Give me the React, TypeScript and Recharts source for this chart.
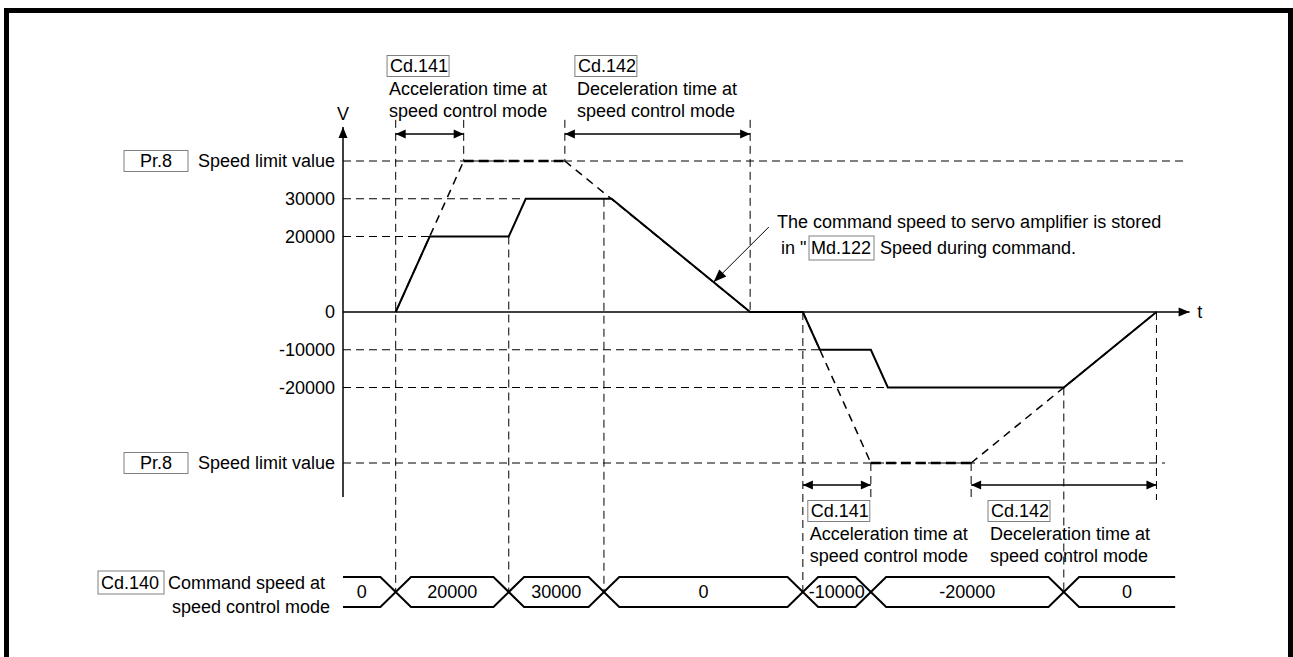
import React from "react";
import {
  ComposedChart,
  Line,
  XAxis,
  YAxis,
  ReferenceLine,
  ReferenceDot,
} from "recharts";

const FONT = "'Liberation Sans', Arial, Helvetica, sans-serif";
const INK = "#000";
const BOX = "#808080";

// time is in arbitrary units, speed in pulse/s
const speedTimes = [62, 102, 195, 215, 316, 479, 541, 561, 621, 641, 848, 957];
const speedValues = [0, 20000, 20000, 30000, 30000, 0, 0, -10000, -10000, -20000, -20000, 0];

// Cd.140 command speed, set at these times
const commandTimes = [0, 62, 195, 307, 541, 621, 848];
const commandValues = [0, 20000, 30000, 0, -10000, -20000, 0];
const commandEnd = 979;

const speedLimit = 40000; // Pr.8
const accelTime = 80; // Cd.141
const decelTime = 218; // Cd.142
const moveStarts = [62, 541];
const moveStops = [479, 957];

const yTicks = [40000, 30000, 20000, 0, -10000, -20000, -40000];

// layout, in chart units
const BAND_TOP = -70200;
const BAND_BOTTOM = -78150;
const BAND_MID = (BAND_TOP + BAND_BOTTOM) / 2;
const CROSS = 18;
const GUIDE_TOP = 50900;
const GUIDE_BOTTOM = -49800;
const ARROW_UP = 47150;
const ARROW_DOWN = -45830;
const AXIS_V = 49000;
const AXIS_T_END = 996;

const txt = { fontFamily: FONT, fontSize: 18, fill: INK };

function speedAt(t: number) {
  for (let i = 1; i < speedTimes.length; i++) {
    if (t <= speedTimes[i]) {
      const t0 = speedTimes[i - 1];
      const f = (t - t0) / (speedTimes[i] - t0);
      return speedValues[i - 1] + f * (speedValues[i] - speedValues[i - 1]);
    }
  }
  return 0;
}

function bandEdge(startTop: boolean) {
  let top = startTop;
  const lvl = () => (top ? BAND_TOP : BAND_BOTTOM);
  const pts = [{ t: commandTimes[0], v: lvl() }];
  for (let i = 1; i < commandTimes.length; i++) {
    pts.push({ t: commandTimes[i] - CROSS, v: lvl() });
    top = !top;
    pts.push({ t: commandTimes[i] + CROSS, v: lvl() });
  }
  pts.push({ t: commandEnd, v: lvl() });
  return pts;
}

function headPts(x1: number, y1: number, x2: number, y2: number, len: number, half: number) {
  const dx = x2 - x1;
  const dy = y2 - y1;
  const l = Math.hypot(dx, dy) || 1;
  const ux = dx / l;
  const uy = dy / l;
  const bx = x2 - ux * len;
  const by = y2 - uy * len;
  return `${x2},${y2} ${bx - uy * half},${by + ux * half} ${bx + uy * half},${by - ux * half}`;
}

function AxisArrow(p: any) {
  return (
    <g>
      <line x1={p.x1} y1={p.y1} x2={p.x2} y2={p.y2} stroke={INK} strokeWidth={1.5} />
      <polygon points={headPts(p.x1, p.y1, p.x2, p.y2, 11, 4.5)} fill={INK} />
    </g>
  );
}

function SpanArrow(p: any) {
  return (
    <g>
      <line x1={p.x1} y1={p.y1} x2={p.x2} y2={p.y2} stroke={INK} strokeWidth={1.5} />
      <polygon points={headPts(p.x1, p.y1, p.x2, p.y2, 10, 4.5)} fill={INK} />
      <polygon points={headPts(p.x2, p.y2, p.x1, p.y1, 10, 4.5)} fill={INK} />
    </g>
  );
}

function Leader(p: any) {
  return (
    <g>
      <line x1={p.x1} y1={p.y1} x2={p.x2} y2={p.y2} stroke={INK} strokeWidth={1} />
      <polygon points={headPts(p.x1, p.y1, p.x2, p.y2, 13, 5)} fill={INK} />
    </g>
  );
}

function Callout({ cx, cy, code, lines }: any) {
  return (
    <g>
      <rect x={cx - 1} y={cy - 10.5} width={62} height={21} fill="none" stroke={BOX} />
      <text x={cx + 2} y={cy} dominantBaseline="central" {...txt}>{code}</text>
      <text x={cx + 1} y={cy + 23} dominantBaseline="central" {...txt}>{lines[0]}</text>
      <text x={cx + 1} y={cy + 45} dominantBaseline="central" {...txt}>{lines[1]}</text>
    </g>
  );
}

function SpeedTick({ x, y, payload }: any) {
  const v = payload.value;
  if (Math.abs(v) === speedLimit) {
    return (
      <g>
        <rect x={x - 211} y={y - 10.5} width={64} height={21} fill="none" stroke={BOX} />
        <text x={x - 179} y={y} textAnchor="middle" dominantBaseline="central" {...txt}>Pr.8</text>
        <text x={x} y={y} textAnchor="end" dominantBaseline="central" {...txt}>Speed limit value</text>
      </g>
    );
  }
  return (
    <text x={x} y={y} textAnchor="end" dominantBaseline="central" {...txt}>{v}</text>
  );
}

export default function App() {
  const speedData = speedTimes.map((t, i) => ({ t, v: speedValues[i] }));
  const bandA = bandEdge(true);
  const bandB = bandEdge(false);
  const reach = (v: number) => speedTimes[speedValues.indexOf(v)];

  const hGuides: [number, number][] = [
    [speedLimit, 994],
    [30000, reach(30000)],
    [20000, reach(20000)],
    [-10000, reach(-10000)],
    [-20000, reach(-20000)],
    [-speedLimit, 967],
  ];

  const vGuides: [number, number, number][] = [
    [commandTimes[1], GUIDE_TOP, BAND_MID],
    [moveStarts[0] + accelTime, GUIDE_TOP, speedLimit],
    [commandTimes[2], 20000, BAND_MID],
    [moveStops[0] - decelTime, GUIDE_TOP, speedLimit],
    [commandTimes[3], 30000, BAND_MID],
    [moveStops[0], GUIDE_TOP, 0],
    [commandTimes[4], 0, BAND_MID],
    [moveStarts[1] + accelTime, -speedLimit, GUIDE_BOTTOM],
    [moveStops[1] - decelTime, -speedLimit, GUIDE_BOTTOM],
    [commandTimes[6], -20000, BAND_MID],
    [moveStops[1], 0, GUIDE_BOTTOM],
  ];

  const spans: [number, number, number][] = [
    [moveStarts[0], moveStarts[0] + accelTime, ARROW_UP],
    [moveStops[0] - decelTime, moveStops[0], ARROW_UP],
    [moveStarts[1], moveStarts[1] + accelTime, ARROW_DOWN],
    [moveStops[1] - decelTime, moveStops[1], ARROW_DOWN],
  ];

  const callouts = [
    { t: 53, v: 65166, code: "Cd.141", lines: ["Acceleration time at", "speed control mode"] },
    { t: 274, v: 65166, code: "Cd.142", lines: ["Deceleration time at", "speed control mode"] },
    { t: 548, v: -52715, code: "Cd.141", lines: ["Acceleration time at", "speed control mode"] },
    { t: 760, v: -52715, code: "Cd.142", lines: ["Deceleration time at", "speed control mode"] },
  ];

  const leaderTip = 436;

  return (
    <div
      style={{
        position: "absolute",
        left: 0,
        top: 0,
        width: 1293,
        height: 657,
        background: "#fff",
        overflow: "hidden",
      }}
    >
      <div
        style={{
          position: "absolute",
          left: 4,
          top: 8,
          width: 1279,
          height: 700,
          border: "5px solid #000",
        }}
      />
      <div style={{ position: "absolute", left: 0, top: 0 }}>
        <ComposedChart width={1293} height={657} margin={{ top: 10, right: 15, bottom: 43, left: 3 }}>
          <XAxis type="number" dataKey="t" domain={[0, 1100]} hide height={0} allowDataOverflow />
          <YAxis
            type="number"
            domain={[-80000, 80000]}
            ticks={yTicks}
            interval={0}
            axisLine={false}
            tickLine={false}
            tickSize={6}
            tickMargin={2}
            width={340}
            allowDataOverflow
            tick={(p: any) => <SpeedTick {...p} />}
          />

          {hGuides.map(([v, end]) => (
            <ReferenceLine
              key={"h" + v}
              segment={[{ x: 0, y: v }, { x: end, y: v }]}
              stroke={INK}
              strokeWidth={1}
              strokeDasharray="8 5"
            />
          ))}

          {vGuides.map(([t, a, b]) => (
            <ReferenceLine
              key={"v" + t}
              segment={[{ x: t, y: a }, { x: t, y: b }]}
              stroke={INK}
              strokeWidth={1}
              strokeDasharray="8 5"
            />
          ))}

          {moveStarts.map((s, i) => {
            const lim = (i === 0 ? 1 : -1) * speedLimit;
            const a = s + accelTime;
            const d = moveStops[i] - decelTime;
            return [
              <ReferenceLine key={"pa" + i} segment={[{ x: s, y: 0 }, { x: a, y: lim }]} stroke={INK} strokeWidth={1.5} strokeDasharray="8 6" />,
              <ReferenceLine key={"pf" + i} segment={[{ x: a, y: lim }, { x: d, y: lim }]} stroke={INK} strokeWidth={2.5} strokeDasharray="10 5" />,
              <ReferenceLine key={"pd" + i} segment={[{ x: d, y: lim }, { x: moveStops[i], y: 0 }]} stroke={INK} strokeWidth={1.5} strokeDasharray="8 6" />,
            ];
          })}

          {spans.map(([a, b, v]) => (
            <ReferenceLine key={"s" + a} segment={[{ x: a, y: v }, { x: b, y: v }]} shape={(p: any) => <SpanArrow {...p} />} />
          ))}

          <ReferenceLine segment={[{ x: 0, y: -AXIS_V }, { x: 0, y: AXIS_V }]} shape={(p: any) => <AxisArrow {...p} />} />
          <ReferenceLine segment={[{ x: 0, y: 0 }, { x: AXIS_T_END, y: 0 }]} shape={(p: any) => <AxisArrow {...p} />} />
          <ReferenceDot x={0} y={52450} r={1} shape={(p: any) => (
            <text x={p.cx} y={p.cy} textAnchor="middle" dominantBaseline="central" {...txt}>V</text>
          )} />
          <ReferenceDot x={1008} y={0} r={1} shape={(p: any) => (
            <text x={p.cx} y={p.cy} textAnchor="middle" dominantBaseline="central" {...txt}>t</text>
          )} />

          {callouts.map((c, i) => (
            <ReferenceDot key={"c" + i} x={c.t} y={c.v} r={1} shape={(p: any) => (
              <Callout cx={p.cx} cy={p.cy} code={c.code} lines={c.lines} />
            )} />
          ))}

          <ReferenceLine
            segment={[{ x: 501, y: 22517 }, { x: leaderTip, y: speedAt(leaderTip) }]}
            shape={(p: any) => <Leader {...p} />}
          />
          <ReferenceDot x={510.6} y={23841} r={1} shape={(p: any) => (
            <g>
              <text x={p.cx} y={p.cy} dominantBaseline="central" {...txt}>The command speed to servo amplifier is stored</text>
              <text x={p.cx + 4} y={p.cy + 26} dominantBaseline="central" {...txt}>in "</text>
              <rect x={p.cx + 32} y={p.cy + 14} width={65} height={24} fill="none" stroke={BOX} />
              <text x={p.cx + 34} y={p.cy + 26} dominantBaseline="central" {...txt}>Md.122</text>
              <text x={p.cx + 103} y={p.cy + 26} dominantBaseline="central" {...txt}>Speed during command.</text>
            </g>
          )} />

          <Line data={bandA} dataKey="v" type="linear" stroke={INK} strokeWidth={2} dot={false} activeDot={false} isAnimationActive={false} />
          <Line data={bandB} dataKey="v" type="linear" stroke={INK} strokeWidth={2} dot={false} activeDot={false} isAnimationActive={false} />

          {commandTimes.map((t, i) => {
            const next = i + 1 < commandTimes.length ? commandTimes[i + 1] : commandEnd;
            const from = i === 0 ? t : t + CROSS;
            const to = i + 1 < commandTimes.length ? next - CROSS : next;
            return (
              <ReferenceDot key={"b" + i} x={(from + to) / 2} y={BAND_MID} r={1} shape={(p: any) => (
                <text x={p.cx} y={p.cy} textAnchor="middle" dominantBaseline="central" {...txt}>{commandValues[i]}</text>
              )} />
            );
          })}

          <ReferenceDot x={0} y={BAND_MID} r={1} shape={(p: any) => (
            <g>
              <rect x={p.cx - 245} y={p.cy - 21} width={66} height={23} fill="none" stroke={BOX} />
              <text x={p.cx - 242} y={p.cy - 9} dominantBaseline="central" {...txt}>Cd.140</text>
              <text x={p.cx - 175} y={p.cy - 9} dominantBaseline="central" {...txt}>Command speed at</text>
              <text x={p.cx - 13} y={p.cy + 15} textAnchor="end" dominantBaseline="central" {...txt}>speed control mode</text>
            </g>
          )} />

          <Line data={speedData} dataKey="v" type="linear" stroke={INK} strokeWidth={2} dot={false} activeDot={false} isAnimationActive={false} />
        </ComposedChart>
      </div>
    </div>
  );
}
